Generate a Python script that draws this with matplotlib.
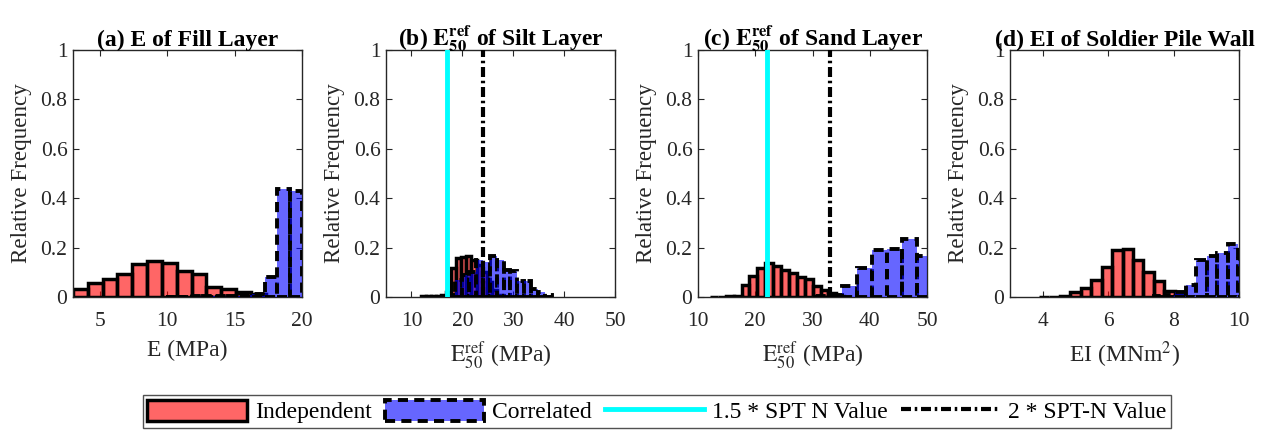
import matplotlib
matplotlib.use('Agg')
import matplotlib.pyplot as plt
import numpy as np
from matplotlib.patches import Patch
from matplotlib.lines import Line2D

plt.rcParams['font.family'] = ['Liberation Serif', 'DejaVu Serif']
plt.rcParams['mathtext.fontset'] = 'stix'

# ---- data (bin start, bin width, relative frequency) ----
# (a) E of fill layer
a_ind_start, a_ind_width = 3.0, 1.1
a_ind = [0.034, 0.055, 0.072, 0.093, 0.133, 0.145, 0.136, 0.106, 0.095, 0.042, 0.032, 0.02, 0.012]
a_cor_start, a_cor_width = 9.88, 0.92
a_cor = [0.002, 0.002, 0.003, 0.004, 0.005, 0.006, 0.008, 0.012, 0.08, 0.437, 0.43]

# (b) E50ref of silt layer
b_ind_start, b_ind_width = 11.8, 1.0
b_ind = [0.003, 0.003, 0.004, 0.005, 0.007, 0.02, 0.117, 0.157, 0.16, 0.164, 0.15, 0.13, 0.1, 0.06, 0.03, 0.01]
b_cor_start, b_cor_width = 17.3, 1.35
b_cor = [0.01, 0.07, 0.09, 0.1, 0.15, 0.14, 0.168, 0.15, 0.11, 0.105, 0.064, 0.064, 0.033, 0.02, 0.008]

# (c) E50ref of sand layer
c_ind_start, c_ind_width = 12.08, 1.38
c_ind = [0.002, 0.002, 0.003, 0.005, 0.05, 0.084, 0.118, 0.136, 0.125, 0.11, 0.098, 0.082, 0.073, 0.044, 0.03, 0.015, 0.004]
c_cor_start, c_cor_width = 30.0, 2.6
c_cor = [0.003, 0.01, 0.046, 0.118, 0.19, 0.195, 0.234, 0.166]

# (d) EI of soldier pile wall
d_ind_start, d_ind_width = 3.88, 0.32
d_ind = [0.001, 0.002, 0.004, 0.019, 0.037, 0.067, 0.121, 0.19, 0.193, 0.148, 0.1, 0.064, 0.023, 0.01]
d_cor_start, d_cor_width = 7.41, 0.32
d_cor = [0.003, 0.01, 0.02, 0.05, 0.15, 0.165, 0.18, 0.215, 0.155]

# SPT based reference values (b, c)
spt15 = [None, 17, 22, None]
spt2 = [None, 24, 33, None]

titles = ['(a) E of Fill Layer',
          r'(b) $\mathbf{E}_{\mathbf{50}}^{\mathbf{ref}}$ of Silt Layer',
          r'(c) $\mathbf{E}_{\mathbf{50}}^{\mathbf{ref}}$ of Sand Layer',
          '(d) EI of Soldier Pile Wall']
xlabels = ['E (MPa)', r'$\mathrm{E}_{50}^{\mathrm{ref}}$ (MPa)', r'$\mathrm{E}_{50}^{\mathrm{ref}}$ (MPa)',
           r'EI (MNm$^2$)']
xlims = [(3, 20), (5, 50), (10, 50), (3, 10)]
xticks = [[5, 10, 15, 20], [10, 20, 30, 40, 50], [10, 20, 30, 40, 50], [4, 6, 8, 10]]

ind_data = [(a_ind_start, a_ind_width, a_ind), (b_ind_start, b_ind_width, b_ind),
            (c_ind_start, c_ind_width, c_ind), (d_ind_start, d_ind_width, d_ind)]
cor_data = [(a_cor_start, a_cor_width, a_cor), (b_cor_start, b_cor_width, b_cor),
            (c_cor_start, c_cor_width, c_cor), (d_cor_start, d_cor_width, d_cor)]

RED = (1, 0, 0, 0.6)
BLUE = (0, 0, 1, 0.6)
DASH = (0, (2.6, 1.6))
DASHDOT = (0, (2.4, 0.9, 0.6, 0.9))
AXC = '#262626'

W, H = 1266, 433
fig = plt.figure(figsize=(W / 100, H / 100), dpi=100)
lefts = [73, 386, 698, 1010]

for i in range(4):
    ax = fig.add_axes([lefts[i] / W, 1 - 297 / H, 229 / W, 247 / H])
    s, w, h = ind_data[i]
    ax.bar(s + w * np.arange(len(h)), h, width=w, align='edge',
           color=RED, edgecolor='black', linewidth=2.5, zorder=2)
    s, w, h = cor_data[i]
    ax.bar(s + w * np.arange(len(h)), h, width=w, align='edge',
           color=BLUE, edgecolor='black', linewidth=2.8, linestyle=DASH, zorder=3)
    if spt15[i] is not None:
        ax.axvline(spt15[i], color='cyan', linewidth=3.5, zorder=4)
        ax.axvline(spt2[i], color='black', linewidth=3, linestyle=DASHDOT, zorder=4)

    ax.set_xlim(*xlims[i])
    ax.set_ylim(0, 1)
    ax.set_xticks(xticks[i])
    ax.set_yticks([0, 0.2, 0.4, 0.6, 0.8, 1])
    ax.set_yticklabels(['0', '0.2', '0.4', '0.6', '0.8', '1'])
    ax.tick_params(direction='in', top=True, right=True, length=4, width=0.8,
                   labelsize=15.5, colors=AXC)
    ax.tick_params(axis='x', pad=11)
    ax.tick_params(axis='y', pad=4)
    for sp in ax.spines.values():
        sp.set_color(AXC)
        sp.set_linewidth(1.0)
    ax.set_title(titles[i], fontsize=17, fontweight='bold', pad=3)
    ax.set_xlabel(xlabels[i], fontsize=17, color=AXC, labelpad=6)
    ax.set_ylabel('Relative Frequency', fontsize=16.6, color=AXC, labelpad=6)

handles = [Patch(facecolor=RED, edgecolor='black', linewidth=2.5),
           Patch(facecolor=BLUE, edgecolor='black', linewidth=2.8, linestyle=DASH),
           Line2D([], [], color='cyan', linewidth=3.5),
           Line2D([], [], color='black', linewidth=3, linestyle=DASHDOT)]
labels = ['Independent', 'Correlated', '1.5 * SPT N Value', '2 * SPT-N Value']
leg = fig.legend(handles, labels, loc='center', bbox_to_anchor=(657 / W, 1 - 411.5 / H),
                 ncol=4, fontsize=17, frameon=True, fancybox=False, edgecolor=AXC,
                 handlelength=4.2, handleheight=1.0, columnspacing=0.55, handletextpad=0.35,
                 borderpad=0.2)
leg.get_frame().set_linewidth(1.0)

fig.savefig('out.png', dpi=100)
